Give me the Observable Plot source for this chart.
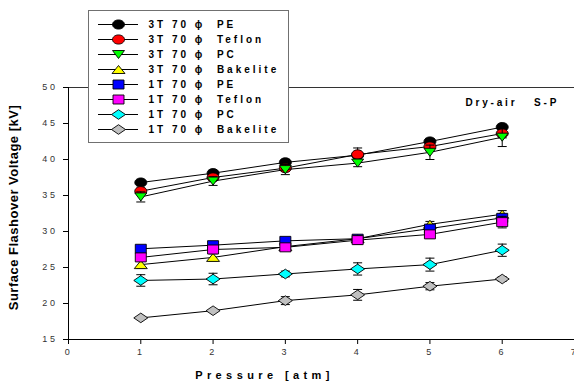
<!DOCTYPE html>
<html><head><meta charset="utf-8">
<script src="https://cdn.jsdelivr.net/npm/d3@7"></script>
<script src="https://cdn.jsdelivr.net/npm/@observablehq/plot@0.6"></script>
<style>
body{margin:0;background:#fff;font-family:"Liberation Sans",Arial,sans-serif;}
#wrap{position:relative;width:574px;height:382px;overflow:hidden;}
#legend{position:absolute;left:88px;top:10px;background:#fff;border:1.3px solid #707070;}
#legend svg{display:block;}
g[aria-label="x-axis tick label"] text, g[aria-label="y-axis tick label"] text{letter-spacing:2.6px;}
.lt text{letter-spacing:3.0px;font-weight:bold;}
.xl text{letter-spacing:4.4px;}
.yl text{letter-spacing:0.5px;}
.an text{letter-spacing:2.8px;}
</style></head><body><div id="wrap"><div id="legend"></div></div>
<script>
// ---- data ----
const pressure = [1, 2, 3, 4, 5, 6];
const seriesNames = ["3T 70 ϕ  PE", "3T 70 ϕ  Teflon", "3T 70 ϕ  PC", "3T 70 ϕ  Bakelite",
                     "1T 70 ϕ  PE", "1T 70 ϕ  Teflon", "1T 70 ϕ  PC", "1T 70 ϕ  Bakelite"];
const pe3T       = [36.8, 38.1, 39.6, 40.6, 42.5, 44.5];
const teflon3T   = [35.6, 37.5, 38.8, 40.7, 41.8, 43.6];
const pc3T       = [34.8, 37.0, 38.6, 39.5, 41.0, 43.1];
const bakelite3T = [25.4, 26.4, 27.9, 29.0, 31.0, 32.4];
const pe1T       = [27.6, 28.1, 28.7, 29.0, 30.4, 31.9];
const teflon1T   = [26.4, 27.5, 27.8, 28.8, 29.6, 31.3];
const pc1T       = [23.2, 23.4, 24.1, 24.8, 25.4, 27.4];
const bakelite1T = [18.0, 19.0, 20.4, 21.2, 22.4, 23.4];
const errPe3T       = [0.3, 0.3, 0.4, 0.3, 0.4, 0.3];
const errTeflon3T   = [0.4, 0.4, 0.4, 0.9, 0.6, 0.6];
const errPc3T       = [0.7, 0.6, 0.7, 0.5, 1.0, 1.3];
const errBakelite3T = [0.5, 0.5, 0.3, 0.3, 0.4, 0.5];
const errPe1T       = [0.3, 0.3, 0.3, 0.4, 0.4, 0.4];
const errTeflon1T   = [0.3, 0.4, 0.3, 0.6, 0.5, 0.8];
const errPc1T       = [0.8, 0.8, 0.4, 0.85, 0.9, 0.85];
const errBakelite1T = [0.1, 0.1, 0.55, 0.75, 0.5, 0.3];
const xTicks = [0, 1, 2, 3, 4, 5, 6, 7];
const yTicks = [15, 20, 25, 30, 35, 40, 45, 50];
const xLabel = "Pressure [atm]";
const yLabel = "Surface Flashover Voltage [kV]";
const annotation = "Dry-air   S-P";

// ---- symbols ----
function ellipse(rx, ry) {
  const k = 0.5523;
  return {draw(c) {
    c.moveTo(rx, 0);
    c.bezierCurveTo(rx, ry * k, rx * k, ry, 0, ry);
    c.bezierCurveTo(-rx * k, ry, -rx, ry * k, -rx, 0);
    c.bezierCurveTo(-rx, -ry * k, -rx * k, -ry, 0, -ry);
    c.bezierCurveTo(rx * k, -ry, rx, -ry * k, rx, 0);
    c.closePath();
  }};
}
const triDown = {draw(c) { c.moveTo(-6, -4); c.lineTo(6, -4); c.lineTo(0, 4); c.closePath(); }};
const triUp = {draw(c) { c.moveTo(-6.5, 4); c.lineTo(6.5, 4); c.lineTo(0, -4); c.closePath(); }};
const rect = {draw(c) { c.moveTo(-5.5, -4.5); c.lineTo(5.5, -4.5); c.lineTo(5.5, 4.5); c.lineTo(-5.5, 4.5); c.closePath(); }};
const diamond = {draw(c) { c.moveTo(-7, 0); c.lineTo(0, -4.8); c.lineTo(7, 0); c.lineTo(0, 4.8); c.closePath(); }};
const cap = {draw(c) { c.moveTo(-4.5, 0); c.lineTo(4.5, 0); }};

const values = [pe3T, teflon3T, pc3T, bakelite3T, pe1T, teflon1T, pc1T, bakelite1T];
const errors = [errPe3T, errTeflon3T, errPc3T, errBakelite3T, errPe1T, errTeflon1T, errPc1T, errBakelite1T];
const colors = ["#000000", "#ff0000", "#00ff00", "#ffff00", "#0000ff", "#ff00ff", "#00ffff", "#c0c0c0"];
const symbols = [ellipse(6, 4.6), ellipse(6, 4.6), triDown, triUp, rect, rect, diamond, diamond];

const series = seriesNames.map((name, i) => ({
  name, color: colors[i], symbol: symbols[i],
  rows: pressure.map((x, j) => ({x, y: values[i][j], e: errors[i][j]}))
}));

const marks = [
  Plot.ruleY([50], {stroke: "#333", strokeWidth: 1.2}),
  Plot.ruleY([15], {stroke: "#000"}),
  Plot.ruleX([0], {stroke: "#000"}),
  Plot.axisX({ticks: xTicks, tickSize: 5, tickPadding: 4, fontSize: 9, fill: "#333", label: null, tickFormat: d => d}),
  Plot.axisY({ticks: yTicks, tickSize: 5, tickPadding: 6, fontSize: 9, fill: "#333", label: null, tickFormat: d => d}),
];
for (const s of series) {
  const er = s.rows.filter(d => d.e > 0.15);
  marks.push(
    Plot.ruleX(er, {x: "x", y1: d => d.y - d.e, y2: d => d.y + d.e, stroke: "#000", strokeWidth: 1}),
    Plot.dot(er, {x: "x", y: d => d.y - d.e, symbol: cap, stroke: "#000", strokeWidth: 1, r: 3}),
    Plot.dot(er, {x: "x", y: d => d.y + d.e, symbol: cap, stroke: "#000", strokeWidth: 1, r: 3}),
    Plot.line(s.rows, {x: "x", y: "y", stroke: "#000", strokeWidth: 1}),
    Plot.dot(s.rows, {x: "x", y: "y", symbol: s.symbol, fill: s.color, stroke: "#000", strokeWidth: 0.9, r: 5})
  );
}
marks.push(
  Plot.text([xLabel], {frameAnchor: "bottom", textAnchor: "middle", lineAnchor: "middle", dx: -57, dy: 36, fontSize: 11, fontWeight: "bold", fill: "#000", className: "xl"}),
  Plot.text([yLabel], {frameAnchor: "left", textAnchor: "middle", lineAnchor: "middle", rotate: -90, dx: -55, dy: -6, fontSize: 13, fontWeight: "bold", fill: "#000", className: "yl"}),
  Plot.text([annotation], {frameAnchor: "top-right", textAnchor: "start", lineAnchor: "middle", dx: -109, dy: 15, fontSize: 10, fontWeight: "bold", fill: "#000", className: "an"})
);

const chart = Plot.plot({
  width: 574, height: 382,
  marginLeft: 68, marginRight: 0, marginTop: 87, marginBottom: 43,
  x: {domain: [0, 7]},
  y: {domain: [15, 50]},
  style: {fontFamily: "'Liberation Sans', Arial, sans-serif", background: "white"},
  marks
});
document.getElementById("wrap").prepend(chart);

// ---- legend ----
const legW = 199;
const legMarks = [];
series.forEach(s => {
  legMarks.push(
    Plot.ruleY([s.name], {y: d => d, insetLeft: 9, insetRight: legW - 49, stroke: "#000", strokeWidth: 1}),
    Plot.dot([s.name], {y: d => d, frameAnchor: "left", dx: 29, symbol: s.symbol, fill: s.color, stroke: "#000", strokeWidth: 0.9, r: 5})
  );
});
legMarks.push(Plot.text(seriesNames, {y: d => d, frameAnchor: "left", dx: 59, textAnchor: "start", fontSize: 10, fontWeight: "bold", fill: "#000", className: "lt"}));
const legend = Plot.plot({
  width: legW, height: 131,
  marginLeft: 0, marginRight: 0, marginTop: 13, marginBottom: 13,
  y: {type: "point", domain: seriesNames, axis: null, padding: 0},
  style: {fontFamily: "'Liberation Sans', Arial, sans-serif", background: "white"},
  marks: legMarks
});
document.getElementById("legend").append(legend);
</script></body></html>
